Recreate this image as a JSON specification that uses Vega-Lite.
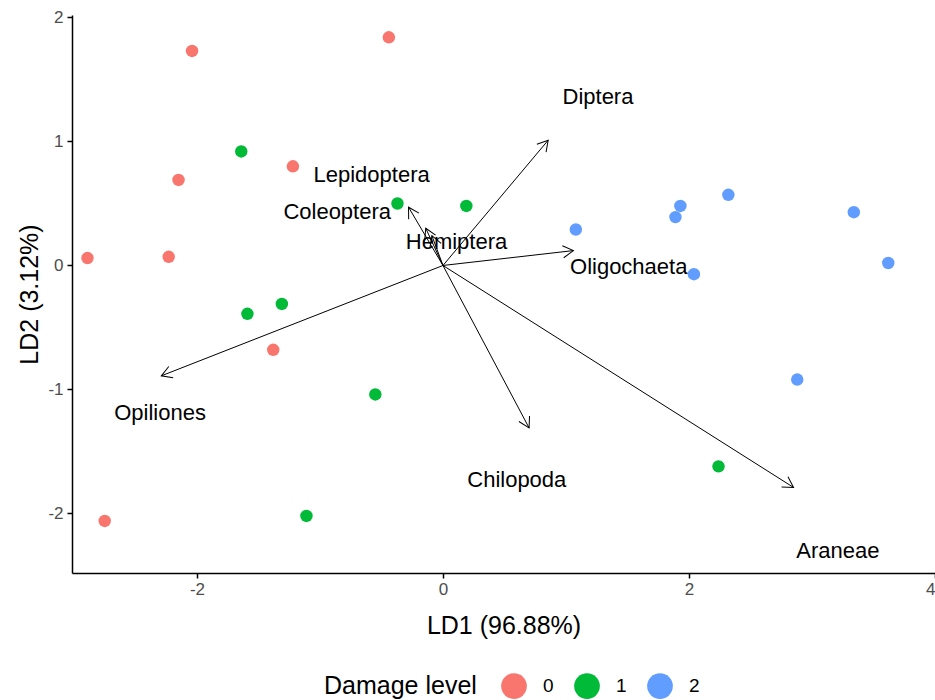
{
  "$schema": "https://vega.github.io/schema/vega-lite/v6.json",
  "autosize": {"type": "none"},
  "width": 863,
  "height": 558,
  "padding": {"left": 72, "top": 15, "right": 0, "bottom": 127},
  "background": "white",
  "config": {
    "view": {"stroke": null},
    "font": "Liberation Sans",
    "axis": {
      "grid": false,
      "domainColor": "black",
      "domainWidth": 1.5,
      "tickColor": "black",
      "tickWidth": 1.5,
      "tickSize": 5,
      "labelColor": "#4D4D4D",
      "labelFontSize": 17,
      "labelFont": "Liberation Sans",
      "labelExpr": "'' + datum.value",
      "titleFont": "Liberation Sans",
      "titleFontSize": 25,
      "titleFontWeight": "normal",
      "titleColor": "black"
    },
    "legend": {
      "titleFont": "Liberation Sans",
      "labelFont": "Liberation Sans",
      "titleFontSize": 25,
      "titleFontWeight": "normal",
      "titleColor": "black",
      "labelFontSize": 19,
      "labelColor": "black"
    }
  },
  "datasets": {
    "scores": [
      {"LD1": -2.04, "LD2": 1.73, "damage": "0"},
      {"LD1": -0.44, "LD2": 1.84, "damage": "0"},
      {"LD1": -2.15, "LD2": 0.69, "damage": "0"},
      {"LD1": -1.22, "LD2": 0.80, "damage": "0"},
      {"LD1": -2.89, "LD2": 0.06, "damage": "0"},
      {"LD1": -2.23, "LD2": 0.07, "damage": "0"},
      {"LD1": -1.38, "LD2": -0.68, "damage": "0"},
      {"LD1": -2.75, "LD2": -2.06, "damage": "0"},
      {"LD1": -1.64, "LD2": 0.92, "damage": "1"},
      {"LD1": -0.37, "LD2": 0.50, "damage": "1"},
      {"LD1": 0.19, "LD2": 0.48, "damage": "1"},
      {"LD1": -1.59, "LD2": -0.39, "damage": "1"},
      {"LD1": -1.31, "LD2": -0.31, "damage": "1"},
      {"LD1": -0.55, "LD2": -1.04, "damage": "1"},
      {"LD1": -1.11, "LD2": -2.02, "damage": "1"},
      {"LD1": 2.24, "LD2": -1.62, "damage": "1"},
      {"LD1": 1.08, "LD2": 0.29, "damage": "2"},
      {"LD1": 1.93, "LD2": 0.48, "damage": "2"},
      {"LD1": 1.89, "LD2": 0.39, "damage": "2"},
      {"LD1": 2.32, "LD2": 0.57, "damage": "2"},
      {"LD1": 2.04, "LD2": -0.07, "damage": "2"},
      {"LD1": 3.34, "LD2": 0.43, "damage": "2"},
      {"LD1": 3.62, "LD2": 0.02, "damage": "2"},
      {"LD1": 2.88, "LD2": -0.92, "damage": "2"}
    ],
    "loadings": [
      {"taxon": "Diptera", "LD1": 0.855, "LD2": 1.01, "labelX": 1.26, "labelY": 1.355},
      {"taxon": "Oligochaeta", "LD1": 1.06, "LD2": 0.12, "labelX": 1.51, "labelY": -0.01},
      {"taxon": "Araneae", "LD1": 2.85, "LD2": -1.79, "labelX": 3.21, "labelY": -2.30},
      {"taxon": "Chilopoda", "LD1": 0.70, "LD2": -1.31, "labelX": 0.60, "labelY": -1.73},
      {"taxon": "Opiliones", "LD1": -2.29, "LD2": -0.89, "labelX": -2.30, "labelY": -1.19},
      {"taxon": "Coleoptera", "LD1": -0.28, "LD2": 0.47, "labelX": -0.86, "labelY": 0.435},
      {"taxon": "Lepidoptera", "LD1": -0.14, "LD2": 0.30, "labelX": -0.58, "labelY": 0.73},
      {"taxon": "Hemiptera", "LD1": -0.09, "LD2": 0.24, "labelX": 0.11, "labelY": 0.19}
    ]
  },
  "layer": [
    {
      "data": {"name": "scores"},
      "mark": {"type": "circle", "size": 155, "opacity": 1},
      "encoding": {
        "x": {
          "field": "LD1",
          "type": "quantitative",
          "title": "LD1 (96.88%)",
          "scale": {"domain": [-3.016, 4.0], "nice": false, "zero": false},
          "axis": {"values": [-2, 0, 2, 4], "labelPadding": 3, "titlePadding": 16}
        },
        "y": {
          "field": "LD2",
          "type": "quantitative",
          "title": "LD2 (3.12%)",
          "scale": {"domain": [-2.48, 2.02], "nice": false, "zero": false},
          "axis": {"values": [-2, -1, 0, 1, 2], "labelPadding": 4, "titlePadding": 5}
        },
        "color": {
          "field": "damage",
          "type": "nominal",
          "title": "Damage level",
          "scale": {"domain": ["0", "1", "2"], "range": ["#F8766D", "#00BA38", "#619CFF"]},
          "legend": {
            "orient": "none",
            "direction": "horizontal",
            "legendX": 252,
            "legendY": 658,
            "titleOrient": "left",
            "titleBaseline": "middle",
            "titlePadding": 24,
            "symbolType": "circle",
            "symbolSize": 660,
            "symbolStrokeWidth": 0,
            "symbolOpacity": 1,
            "labelOffset": 16,
            "columnPadding": 20
          }
        }
      }
    },
    {
      "data": {"name": "loadings"},
      "mark": {"type": "rule", "color": "black", "strokeWidth": 1},
      "encoding": {
        "x": {"field": "LD1", "type": "quantitative"},
        "y": {"field": "LD2", "type": "quantitative"},
        "x2": {"datum": 0},
        "y2": {"datum": 0}
      }
    },
    {
      "data": {"name": "loadings"},
      "transform": [
        {"calculate": "atan2(datum.LD1 * 123, datum.LD2 * 124) * 180 / PI", "as": "heading"}
      ],
      "mark": {
        "type": "point",
        "shape": "M -0.5 0.866 L 0 0 L 0.5 0.866",
        "filled": false,
        "stroke": "black",
        "strokeWidth": 1,
        "size": 576,
        "opacity": 1
      },
      "encoding": {
        "x": {"field": "LD1", "type": "quantitative"},
        "y": {"field": "LD2", "type": "quantitative"},
        "angle": {"field": "heading", "type": "quantitative", "scale": null}
      }
    },
    {
      "data": {"name": "loadings"},
      "mark": {"type": "text", "fontSize": 22, "color": "black", "font": "Liberation Sans"},
      "encoding": {
        "x": {"field": "labelX", "type": "quantitative"},
        "y": {"field": "labelY", "type": "quantitative"},
        "text": {"field": "taxon"}
      }
    }
  ]
}
